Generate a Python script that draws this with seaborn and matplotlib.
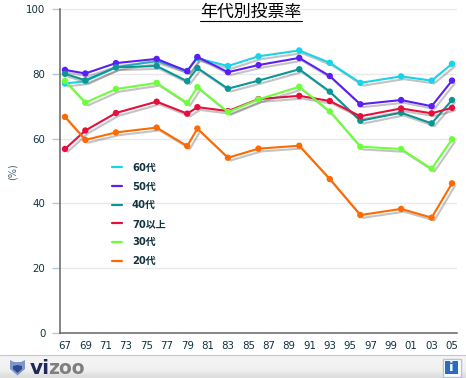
import numpy as np
import pandas as pd
import matplotlib
matplotlib.use('Agg')
import matplotlib.pyplot as plt
import matplotlib.patheffects as pe
from matplotlib.lines import Line2D
from matplotlib.patches import Polygon, Rectangle
import seaborn as sns

years = [1967, 1969, 1972, 1976, 1979, 1980, 1983, 1986, 1990, 1993, 1996, 2000, 2003, 2005]
s60 = [77.0, 77.7, 82.0, 84.0, 80.9, 84.8, 82.4, 85.4, 87.2, 83.4, 77.2, 79.2, 77.9, 83.1]
s50 = [81.2, 80.1, 83.3, 84.6, 80.8, 85.2, 80.5, 82.7, 84.9, 79.3, 70.6, 71.9, 70.0, 77.9]
s40 = [80.0, 78.0, 82.0, 82.4, 77.7, 81.8, 75.4, 77.9, 81.4, 74.5, 65.5, 68.0, 64.7, 71.9]
s70 = [56.8, 62.5, 67.9, 71.4, 67.7, 69.7, 68.5, 72.2, 73.2, 71.6, 66.9, 69.3, 67.8, 69.5]
s30 = [77.8, 71.1, 75.3, 77.2, 71.0, 75.9, 68.2, 72.1, 76.0, 68.4, 57.5, 56.8, 50.7, 59.8]
s20 = [66.7, 59.6, 61.9, 63.4, 57.7, 63.1, 54.1, 56.9, 57.8, 47.5, 36.4, 38.3, 35.6, 46.2]

names = ['60代', '50代', '40代', '70以上', '30代', '20代']
colors = ['#19d3e6', '#5b1ff5', '#0a9696', '#e60f3c', '#6cff3a', '#ff6a00']
xtick_years = list(range(1967, 2006, 2))
yticks = [0, 20, 40, 60, 80, 100]

rows = []
for name, vals in zip(names, [s60, s50, s40, s70, s30, s20]):
    rows.append(pd.DataFrame({'year': years, 'rate': vals, 'group': name}))
df = pd.concat(rows)

sns.set_style('white')
plt.rcParams['font.family'] = ['DejaVu Sans', 'Noto Sans CJK JP']
W, H = 466, 378
fig = plt.figure(figsize=(W / 100, H / 100), dpi=100)
ax = fig.add_axes([59.5 / W, 1 - 333 / H, (457 - 59.5) / W, 324 / H])

sns.lineplot(data=df, x='year', y='rate', hue='group', hue_order=names, palette=colors,
             marker='o', markersize=4.6, markeredgewidth=0, linewidth=1.5, errorbar=None, ax=ax)

# drop shadow under every line
for line in ax.get_lines():
    line.set_path_effects([pe.SimpleLineShadow(offset=(2, -2), shadow_color='#555555', alpha=0.35), pe.Normal()])

ax.set_xlim(1966.46, 2005.49)
ax.set_ylim(0, 100)
ax.set_xticks(xtick_years)
ax.set_xticklabels(['%02d' % (y % 100) for y in xtick_years])
ax.set_yticks(yticks)
ax.set_yticks([10, 30, 50, 70, 90], minor=True)
ax.grid(axis='y', color='#e9e9e9', linewidth=1)
ax.set_axisbelow(True)
ax.tick_params(axis='x', length=0, pad=6, labelsize=7.4, labelcolor='#12333f')
ax.tick_params(axis='y', which='major', left=True, length=5.8, width=1, color='#b5c8d8', pad=4.3, labelsize=7.4, labelcolor='#12333f')
ax.tick_params(axis='y', which='minor', left=True, length=1.5, width=1, color='white', direction='in')
sns.despine(ax=ax)
ax.spines['left'].set_color('#666666')
ax.spines['bottom'].set_color('#666666')
ax.spines['left'].set_linewidth(1.1)
ax.spines['bottom'].set_linewidth(1.1)
ax.set_xlabel('')
ax.set_ylabel('')

leg = ax.legend(loc='upper left', bbox_to_anchor=(112 / W, 1 - 163 / H), bbox_transform=fig.transFigure,
                frameon=False, handlelength=1.0, handletextpad=1.0, labelspacing=0.86,
                borderpad=0, borderaxespad=0, prop={'size': 7.2, 'weight': 'bold'})
for t in leg.get_texts():
    t.set_color('#12333f')
for h in leg.get_lines():
    h.set_marker('')
    h.set_linewidth(1.6)
    h.set_path_effects([])

fig.text(13 / W, 1 - 172 / H, '(%)', rotation=90, ha='center', va='center', fontsize=7, color='#4a6470')
fig.text(250.5 / W, 1 - 12 / H, '年代別投票率', ha='center', va='center', fontsize=12.2,
         color='black', family=['Noto Sans CJK JP', 'DejaVu Sans'])
fig.add_artist(Line2D([200 / W, 302 / W], [1 - 20.5 / H, 1 - 20.5 / H], color='black', linewidth=0.8))

# footer bar
foot = fig.add_axes([0, 0, 1, 23 / H])
foot.imshow(np.array([[0.955], [0.95], [0.945], [0.93], [0.87]]), cmap='gray', vmin=0, vmax=1,
            aspect='auto', extent=(0, W, 0, 23), interpolation='bilinear')
foot.set_xlim(0, W)
foot.set_ylim(0, 23)
foot.axis('off')
fig.add_artist(Line2D([0, 1], [23 / H, 23 / H], color='#c8c8c8', linewidth=0.8))
foot.add_patch(Polygon([(10, 18), (14, 16), (21, 16), (25, 18), (25, 9), (17.5, 2.5), (10, 9)],
                       closed=True, facecolor='#7f96cc', edgecolor='none'))
foot.add_patch(Polygon([(13, 12), (17.5, 13), (22, 12), (22, 9), (17.5, 5), (13, 9)],
                       closed=True, facecolor='#2f4a8c', edgecolor='none'))
foot.text(29.5, 9.5, 'vi', fontsize=14.5, fontweight='bold', color='#1f2a5a', va='center', ha='left')
foot.text(48.5, 9.5, 'zoo', fontsize=13.5, fontweight='bold', color='#7f7f7f', va='center', ha='left')
foot.add_patch(Rectangle((442.5, 1.5), 18, 18, facecolor='white', edgecolor='#a9c8de', linewidth=1))
foot.add_patch(Rectangle((445, 4), 13, 13, facecolor='#2a6cc0', edgecolor='none'))
foot.text(451.5, 10.2, 'i', fontsize=9.5, fontweight='bold', color='white', ha='center', va='center')

fig.savefig('out.png', dpi=100)
